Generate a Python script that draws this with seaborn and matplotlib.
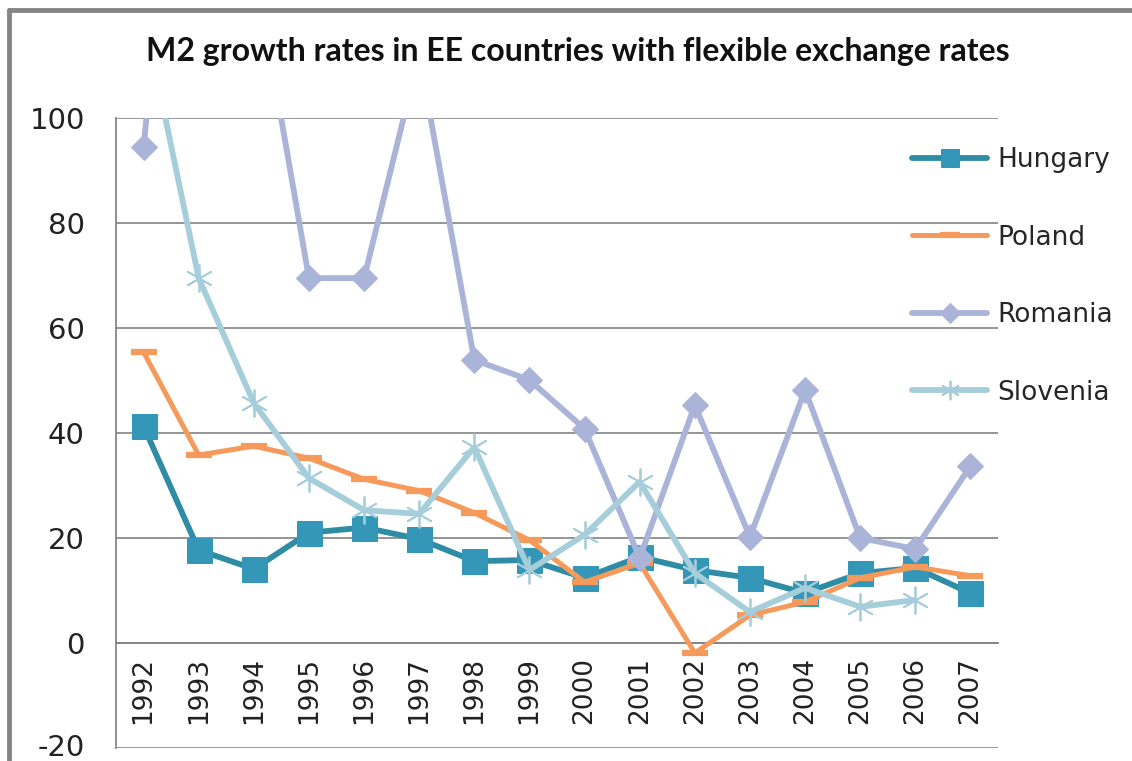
import numpy as np
import pandas as pd
import seaborn as sns
import matplotlib.pyplot as plt
from matplotlib.lines import Line2D
from matplotlib.transforms import ScaledTranslation

years = [str(y) for y in range(1992, 2008)]

hungary = [41.3, 17.7, 14.1, 21.0, 22.0, 19.8, 15.6, 15.8, 12.4, 16.4, 13.9, 12.4, 9.5, 13.3, 14.3, 9.5]
poland = [55.4, 35.8, 37.5, 35.2, 31.2, 29.0, 24.8, 19.6, 11.6, 15.2, -1.9, 5.3, 7.8, 12.4, 14.5, 12.8]
romania = [94.5, 200.0, 130.0, 69.5, 69.5, 112.0, 53.9, 50.1, 40.8, 16.2, 45.3, 20.2, 48.2, 20.0, 17.9, 33.7]
slovenia = [120.0, 69.5, 45.7, 31.4, 25.3, 24.6, 37.3, 13.9, 20.6, 30.7, 13.3, 5.9, 10.5, 6.9, 8.2, np.nan]

y_ticks = [-20, 0, 20, 40, 60, 80, 100]
title = "M2 growth rates in EE countries with flexible exchange rates"

sns.set_style("white")
plt.rcParams['font.family'] = ['DejaVu Sans']

fig = plt.figure(figsize=(11.32, 7.61), dpi=100)
ax = fig.add_axes([116 / 1132, 1 - 748 / 761, (998 - 116) / 1132, (748 - 118) / 761])

x = np.arange(len(years))
df = pd.DataFrame({'x': x, 'Hungary': hungary, 'Poland': poland,
                   'Romania': romania, 'Slovenia': slovenia})

sns.lineplot(data=df, x='x', y='Hungary', ax=ax, color='#2E8CA5', lw=4.2,
             marker='s', markersize=18, markerfacecolor='#3597B8',
             markeredgecolor='#3597B8', label='Hungary', zorder=3)
sns.lineplot(data=df, x='x', y='Poland', ax=ax, color='#F59A5A', lw=3.6,
             marker='_', markersize=19, markeredgewidth=4.5,
             markeredgecolor='#F59A5A', label='Poland', zorder=4)
sns.lineplot(data=df, x='x', y='Romania', ax=ax, color='#A9B4D8', lw=4.2,
             marker='D', markersize=13, markerfacecolor='#A9B4D8',
             markeredgecolor='#A9B4D8', label='Romania', zorder=5)
sns.lineplot(data=df.dropna(subset=['Slovenia']), x='x', y='Slovenia', ax=ax,
             color='#A6CDDA', lw=4.2, marker=(6, 2, 0), markersize=20,
             markeredgewidth=1.3, markeredgecolor='#A6CDDA',
             label='Slovenia', zorder=6)

ax.set_xlim(-0.5, len(years) - 0.5)
ax.set_ylim(-20, 100)
ax.set_xlabel('')
ax.set_ylabel('')

# value axis with gridlines
ax.set_yticks(y_ticks)
ax.set_yticklabels([str(v) for v in y_ticks], fontsize=21, color='#222222')
ax.tick_params(axis='y', length=11.5, width=1.2, color='#868686', pad=11, direction='out')
ax.grid(axis='y', color='#8C8C8C', lw=1.3)
ax.set_axisbelow(True)
# keep the bottom label inside the canvas
lab = ax.get_yticklabels()[0]
lab.set_transform(lab.get_transform() + ScaledTranslation(0, 3 / 100, fig.dpi_scale_trans))

# category axis crosses at zero
ax.spines['bottom'].set_position(('data', 0))
ax.spines['bottom'].set_color('#868686')
ax.spines['bottom'].set_linewidth(1.3)
ax.spines['left'].set_color('#868686')
ax.spines['left'].set_linewidth(1.3)
ax.spines['top'].set_visible(False)
ax.spines['right'].set_visible(False)
ax.set_xticks(x)
ax.set_xticklabels(years, rotation=90, fontsize=19, color='#222222')
ax.set_xticks(np.arange(-0.5, len(years)), minor=True)
ax.tick_params(axis='x', which='major', length=0, pad=10)
ax.tick_params(axis='x', which='minor', length=8, width=1.2, color='#868686', direction='out')

leg = ax.legend(loc='upper left', bbox_to_anchor=(899 / 1132, 1 - 134 / 761),
                bbox_transform=fig.transFigure, frameon=False, fontsize=19,
                handlelength=2.85, handletextpad=0.38, labelspacing=1.95, borderpad=0)
for h, ms in zip(leg.legend_handles, [13, 14, 10, 14]):
    h.set_markersize(ms)

fig.text(0.51, 1 - 51 / 761, title, ha='center', va='center',
         fontsize=23, fontweight='bold', family=['Lato', 'DejaVu Sans'], color='#111111')

# chart-area frame
fig.add_artist(Line2D([9 / 1132, 9 / 1132], [0, 1 - 10 / 761], transform=fig.transFigure,
                      color='#858585', lw=3.5))
fig.add_artist(Line2D([9 / 1132, 1], [1 - 10 / 761, 1 - 10 / 761], transform=fig.transFigure,
                      color='#858585', lw=3.5))

fig.savefig('out.png', dpi=100)
